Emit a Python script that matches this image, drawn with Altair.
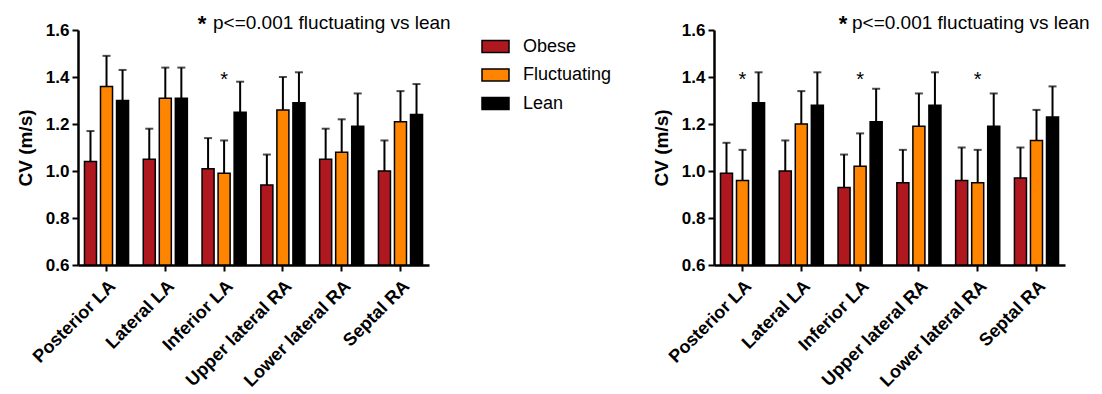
import altair as alt
import pandas as pd

sites = ["Posterior LA", "Lateral LA", "Inferior LA", "Upper lateral RA", "Lower lateral RA", "Septal RA"]
groups = ["Obese", "Fluctuating", "Lean"]
colors = ["#B01820", "#FF8500", "#000000"]

# Left panel
left_obese = [1.04, 1.05, 1.01, 0.94, 1.05, 1.00]
left_obese_up = [1.17, 1.18, 1.14, 1.07, 1.18, 1.13]
left_fluct = [1.36, 1.31, 0.99, 1.26, 1.08, 1.21]
left_fluct_up = [1.49, 1.44, 1.13, 1.40, 1.22, 1.34]
left_lean = [1.30, 1.31, 1.25, 1.29, 1.19, 1.24]
left_lean_up = [1.43, 1.44, 1.38, 1.42, 1.33, 1.37]
left_stars = ["Inferior LA"]

# Right panel
right_obese = [0.99, 1.00, 0.93, 0.95, 0.96, 0.97]
right_obese_up = [1.12, 1.13, 1.07, 1.09, 1.10, 1.10]
right_fluct = [0.96, 1.20, 1.02, 1.19, 0.95, 1.13]
right_fluct_up = [1.09, 1.34, 1.16, 1.33, 1.09, 1.26]
right_lean = [1.29, 1.28, 1.21, 1.28, 1.19, 1.23]
right_lean_up = [1.42, 1.42, 1.35, 1.42, 1.33, 1.36]
right_stars = ["Posterior LA", "Inferior LA", "Lower lateral RA"]

star_level = 1.36
note = "p<=0.001 fluctuating vs lean"
FONT = "Liberation Sans"
W, H = 351, 235


def build(obese, obese_up, fluct, fluct_up, lean, lean_up, stars, show_legend, star_x, note_x):
    rows = []
    for g, vals, ups in [("Obese", obese, obese_up), ("Fluctuating", fluct, fluct_up), ("Lean", lean, lean_up)]:
        for s, v, u in zip(sites, vals, ups):
            rows.append({"site": s, "group": g, "value": v, "upper": u})
    df = pd.DataFrame(rows)
    star_df = pd.DataFrame({"site": stars, "level": [star_level] * len(stars), "label": ["*"] * len(stars)})

    x = alt.X("site:N", sort=sites,
              scale=alt.Scale(domain=sites, paddingInner=0.25, paddingOuter=0.11),
              axis=alt.Axis(title=None, labelAngle=315, labelAlign="right", labelBaseline="top",
                            labelPadding=6, labelFontSize=18))
    xo = alt.XOffset("group:N", sort=groups, scale=alt.Scale(domain=groups, paddingInner=0.25, paddingOuter=0))
    yscale = alt.Scale(domain=[0.6, 1.6], nice=False, zero=False)
    yaxis = alt.Axis(title="CV (m/s)", values=[0.6, 0.8, 1.0, 1.2, 1.4, 1.6], format=".1f",
                     labelFontSize=17, titleFontSize=19, titlePadding=10, labelPadding=3)
    if show_legend:
        legend = alt.Legend(title=None, orient="none", legendX=403, legendY=2,
                            symbolType="M-1,-0.44L1,-0.44L1,0.44L-1,0.44Z", symbolSize=729,
                            symbolStrokeColor="black", symbolStrokeWidth=1.5, symbolOpacity=1,
                            labelFontSize=18, labelFont=FONT, labelFontWeight="normal",
                            labelColor="black", labelOffset=13, rowPadding=4.5, padding=0)
    else:
        legend = None
    color = alt.Color("group:N", sort=groups, scale=alt.Scale(domain=groups, range=colors), legend=legend)

    base = alt.Chart(df)
    bars = base.mark_bar(stroke="black", strokeWidth=1.5, opacity=1).encode(
        x=x, xOffset=xo, y=alt.Y("value:Q", scale=yscale, axis=yaxis), y2=alt.datum(0.6), color=color)
    rules = base.mark_rule(color="black", strokeWidth=2).encode(
        x=x, xOffset=xo, y=alt.Y("value:Q", scale=yscale, axis=yaxis), y2="upper:Q")
    caps = base.mark_tick(color="black", thickness=2, size=8, orient="horizontal").encode(
        x=x, xOffset=xo, y=alt.Y("upper:Q", scale=yscale, axis=yaxis))
    star_marks = alt.Chart(star_df).mark_text(fontSize=20, font=FONT, color="black", baseline="alphabetic").encode(
        x=alt.X("site:N", sort=sites), y=alt.Y("level:Q", scale=yscale, axis=yaxis), text="label:N")
    note_star = alt.Chart(pd.DataFrame({"t": ["*"]})).mark_text(
        fontSize=22, font=FONT, fontWeight="bold", color="black", align="center", baseline="alphabetic").encode(
        x=alt.value(star_x), y=alt.value(1), text="t:N")
    note_text = alt.Chart(pd.DataFrame({"t": [note]})).mark_text(
        fontSize=19, font=FONT, color="black", align="left", baseline="alphabetic").encode(
        x=alt.value(note_x), y=alt.value(-1), text="t:N")
    return alt.layer(rules, caps, bars, star_marks, note_star, note_text).properties(width=W, height=H)


left = build(left_obese, left_obese_up, left_fluct, left_fluct_up, left_lean, left_lean_up, left_stars, True, 124, 135)
right = build(right_obese, right_obese_up, right_fluct, right_fluct_up, right_lean, right_lean_up, right_stars, False, 129, 138)

chart = alt.hconcat(left, right, spacing=40).resolve_scale(color="independent").properties(
    padding={"left": 16, "top": 13, "right": 5, "bottom": 5}
).configure_view(stroke=None).configure_axis(
    grid=False, domainColor="black", domainWidth=2.5, tickColor="black", tickWidth=2, tickSize=6,
    labelFont=FONT, labelFontWeight="bold", labelColor="black",
    titleFont=FONT, titleFontWeight="bold", titleColor="black", titleFontSize=19
)

chart.save("out.html", embed_options={"renderer": "svg", "actions": False})
